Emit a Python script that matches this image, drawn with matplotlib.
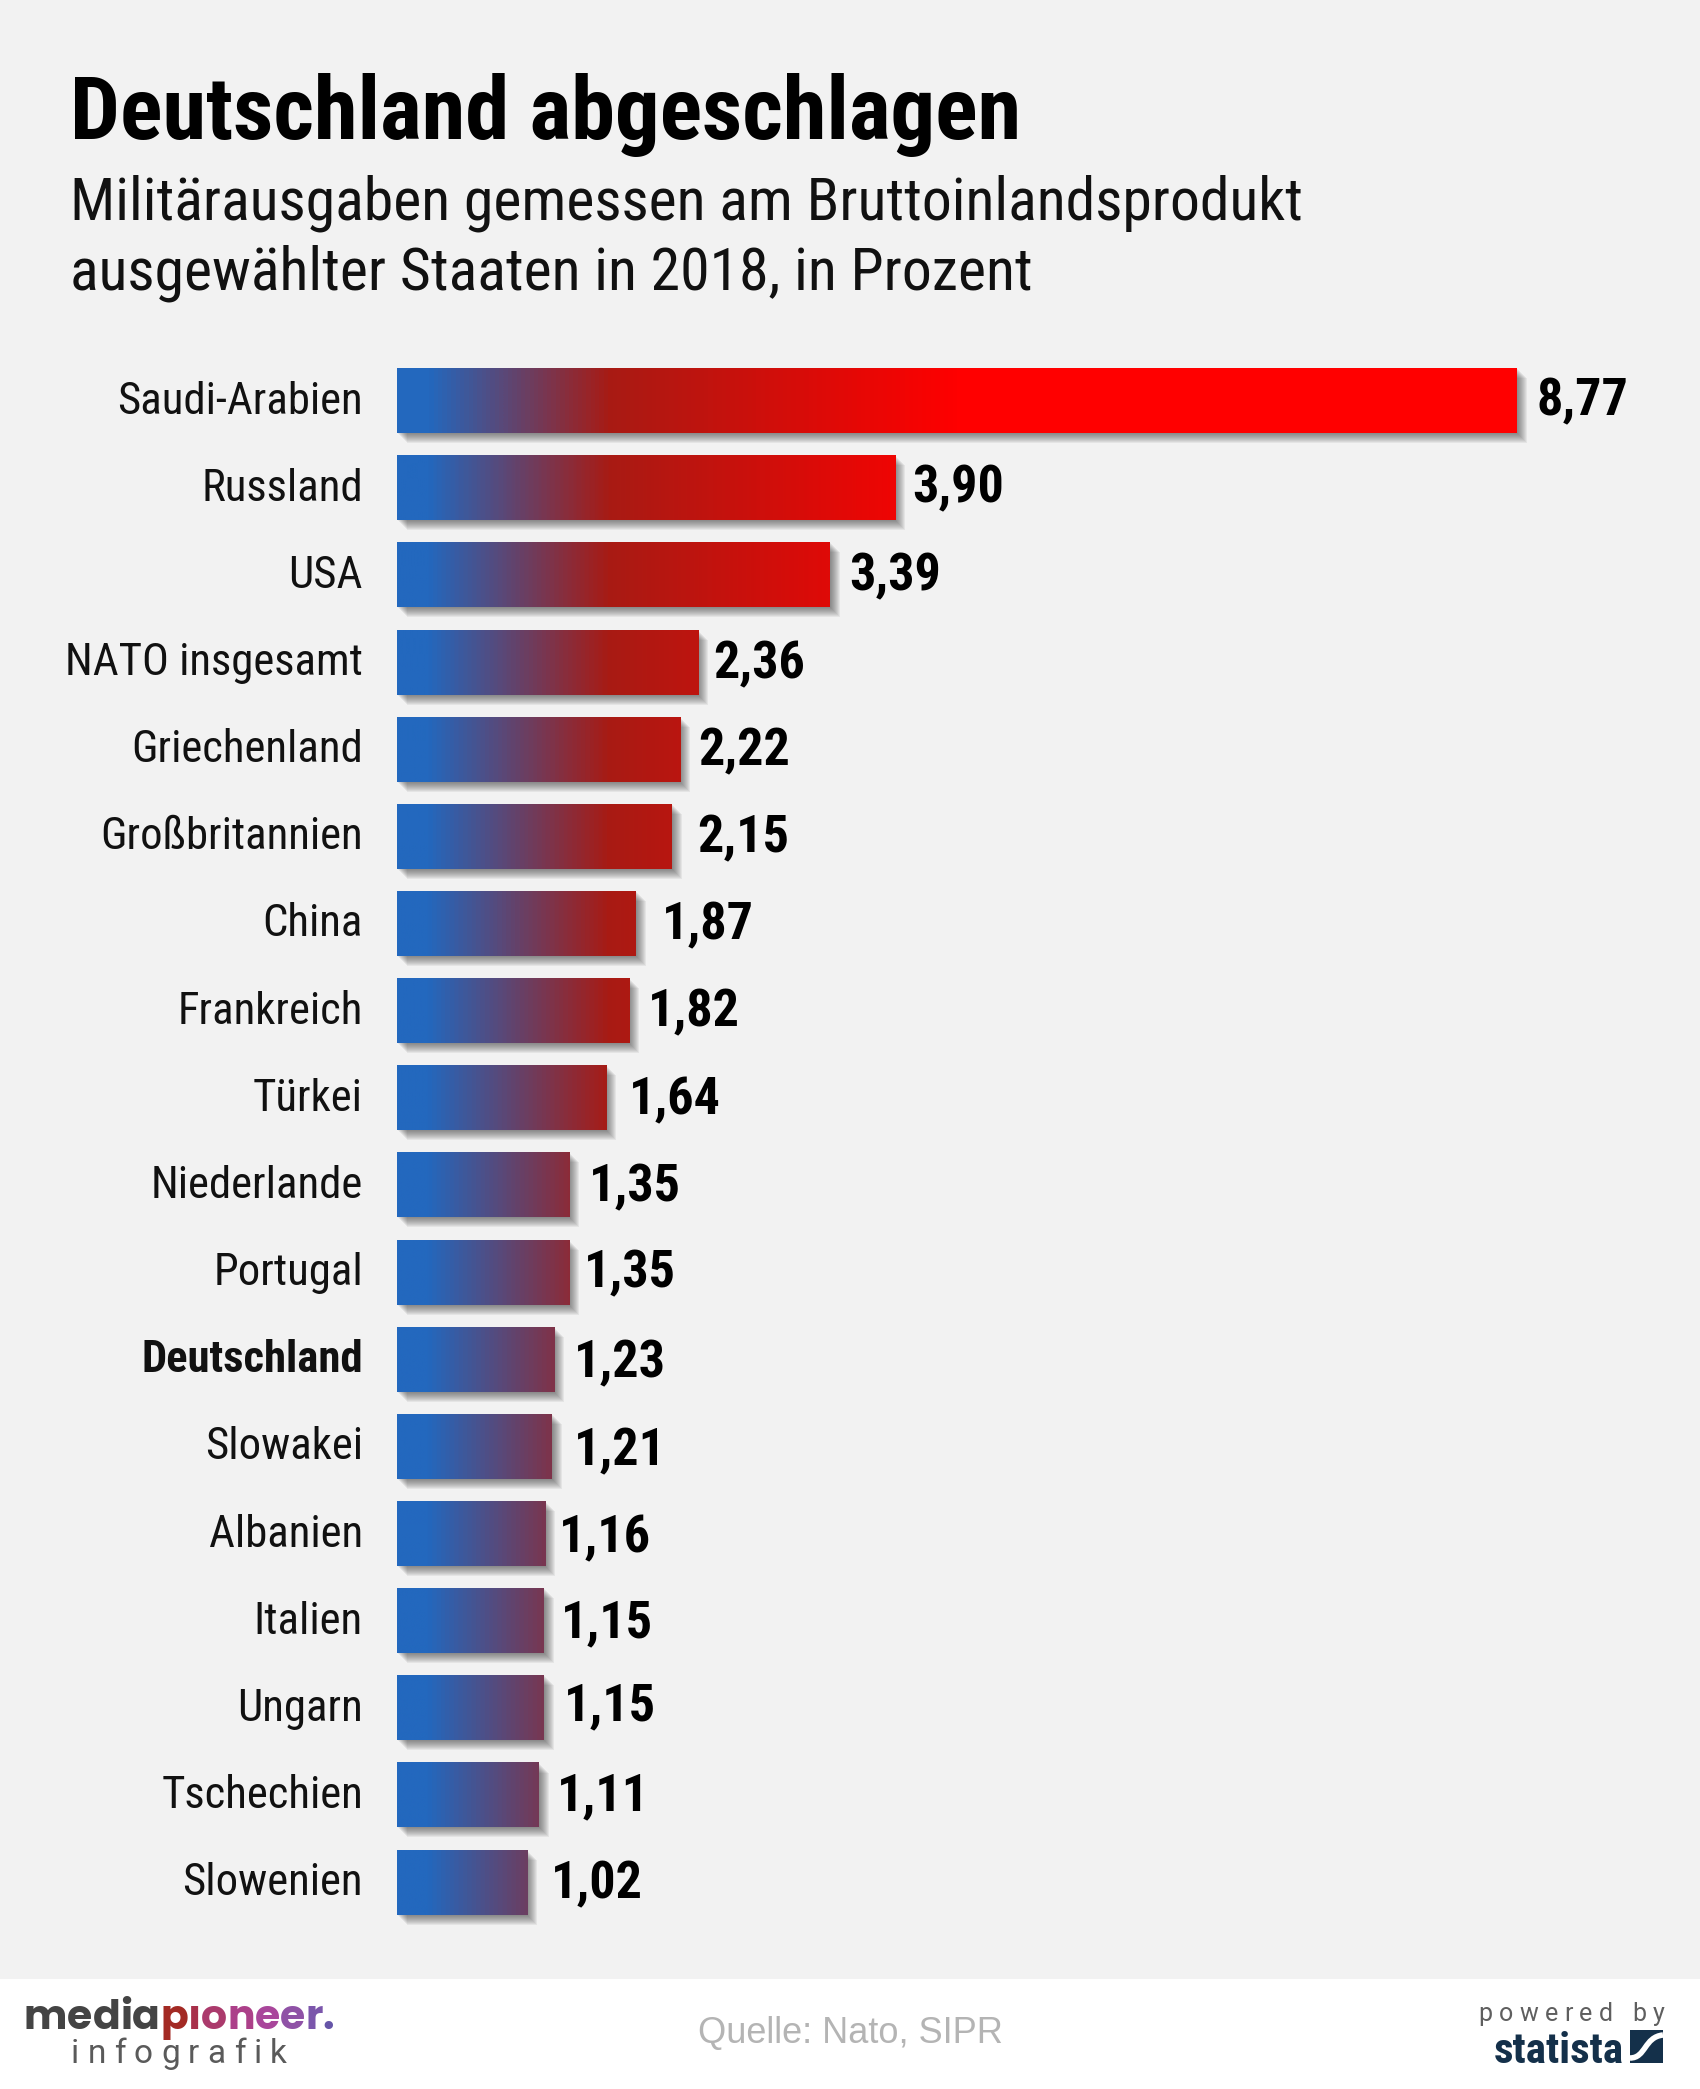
import numpy as np
import matplotlib
matplotlib.use('Agg')
import matplotlib.pyplot as plt
from matplotlib.colors import LinearSegmentedColormap, Normalize
from matplotlib.patches import Rectangle, PathPatch
from matplotlib.path import Path
from matplotlib.transforms import ScaledTranslation

countries = ['Saudi-Arabien', 'Russland', 'USA', 'NATO insgesamt', 'Griechenland', 'Großbritannien',
             'China', 'Frankreich', 'Türkei', 'Niederlande', 'Portugal', 'Deutschland',
             'Slowakei', 'Albanien', 'Italien', 'Ungarn', 'Tschechien', 'Slowenien']
values = [8.77, 3.90, 3.39, 2.36, 2.22, 2.15, 1.87, 1.82, 1.64, 1.35, 1.35, 1.23, 1.21, 1.16, 1.15, 1.15, 1.11, 1.02]

# the value labels sit by hand in the original, gap and drift in pixels
label_gap = [20, 17, 19, 15, 18, 26, 26, 19, 23, 20, 15, 20, 22, 14, 17, 20, 18, 24]
label_dy = [1, 1, 1, 2, 2, 2, 2, 2, 3, 2, 1, 4, 5, 5, 3, -1, 1, 2]

cond = 'Roboto Condensed'
W, H = 1700, 2089
fig = plt.figure(figsize=(W / 100, H / 100), dpi=100, facecolor='white')

# pixel overlay for background and all loose text
ov = fig.add_axes([0, 0, 1, 1])
ov.set_xlim(0, W)
ov.set_ylim(H, 0)
ov.axis('off')
ov.add_patch(Rectangle((0, 0), W, 1979, color='#f2f2f2', lw=0))

ov.text(70, 115, 'Deutschland abgeschlagen', family=cond, weight='bold', fontsize=63.7, va='center', color='black')
ov.text(70, 203, 'Militärausgaben gemessen am Bruttoinlandsprodukt', family=cond, fontsize=43, va='center', color='#111111')
ov.text(70, 273, 'ausgewählter Staaten in 2018, in Prozent', family=cond, fontsize=43, va='center', color='#111111')

# bars
left, px_per_unit = 397, 127.7
top_px, bottom_px = 330, 1950
step = 87.15
first_y = 400.6
ax = fig.add_axes([left / W, 1 - bottom_px / H, (W - left) / W, (bottom_px - top_px) / H])
ax.patch.set_alpha(0)
ax.axis('off')
xmax = (W - left) / px_per_unit
ymin = (top_px - first_y) / step
ymax = (bottom_px - first_y) / step

cmap = LinearSegmentedColormap.from_list('bars', [
    (0, '#2368BE'), (0.22 / 8.77, '#2368BE'), (1.65 / 8.77, '#A81B14'), (4.4 / 8.77, '#FF0000'), (1, '#FF0000')])
norm = Normalize(0, 8.77)
bar_h = 0.745
ypos = np.arange(len(values))

for off in [1, 2, 3, 4, 5, 6, 7, 8, 9, 10]:
    shadow = ax.barh(ypos, values, height=bar_h, color='#333333', alpha=0.07, lw=0, zorder=1)
    tr = ax.transData + ScaledTranslation(off / 100, -off / 100, fig.dpi_scale_trans)
    for r in shadow:
        r.set_transform(tr)

for i, v in enumerate(values):
    grad = np.linspace(0, v, 300).reshape(1, -1)
    ax.imshow(grad, extent=[0, v, i + bar_h / 2, i - bar_h / 2], aspect='auto', cmap=cmap, norm=norm, zorder=2,
              interpolation='bilinear')
ax.set_xlim(0, xmax)
ax.set_ylim(ymax, ymin)

for i, (c, v) in enumerate(zip(countries, values)):
    y_px = first_y + i * step + 1
    ov.text(363, y_px, c, family=cond, fontsize=32.2, ha='right', va='center', color='#111111',
            weight='bold' if c == 'Deutschland' else 'normal')
    ax.annotate(f'{v:.2f}'.replace('.', ','), (v, i), xytext=(label_gap[i] * 0.72, -label_dy[i] * 0.72),
                textcoords='offset points', family=cond, weight='bold', fontsize=37.5, va='center', color='black')

renderer = fig.canvas.get_renderer()


def spaced(x, y, text, colors, extra, **kw):
    # one letter after the other, the footer logos are tracked out
    for ch, col in zip(text, colors):
        t = ov.text(x, y, ch, color=col, va='baseline', **kw)
        x += t.get_window_extent(renderer).width + extra


# footer
media_cols = ['#444444'] * 5 + ['#A32A24', '#A8304A', '#AB3A6C', '#AC4089', '#A9469B', '#8F52A6', '#7B56AB', '#6655A8', '#444444']
spaced(24, 2029, 'mediapıoneer.', media_cols, 0, family='Poppins', weight='bold', fontsize=29.5)
spaced(71, 2063, 'infografik', ['#5a5a5a'] * 10, 8.2, family='Roboto', fontsize=24)
spaced(1478, 2021, 'powered by', ['#5f5f5f'] * 10, 6.5, family='Roboto', fontsize=18)
ov.text(1624, 2063, 'statista', family=cond, weight='bold', fontsize=31, ha='right', va='baseline', color='#14304A')
ov.add_patch(Rectangle((1630, 2030), 33, 33, color='#14304A', lw=0))
curve = Path([(1630, 2058), (1646, 2058), (1644, 2037), (1663, 2035)],
             [Path.MOVETO, Path.CURVE4, Path.CURVE4, Path.CURVE4])
ov.add_patch(PathPatch(curve, fc='none', ec='white', lw=4))
ov.text(850, 2034, 'Quelle: Nato, SIPR', family='Liberation Sans', fontsize=26, ha='center', va='center', color='#b4b4b4')

fig.savefig('out.png', dpi=100)
